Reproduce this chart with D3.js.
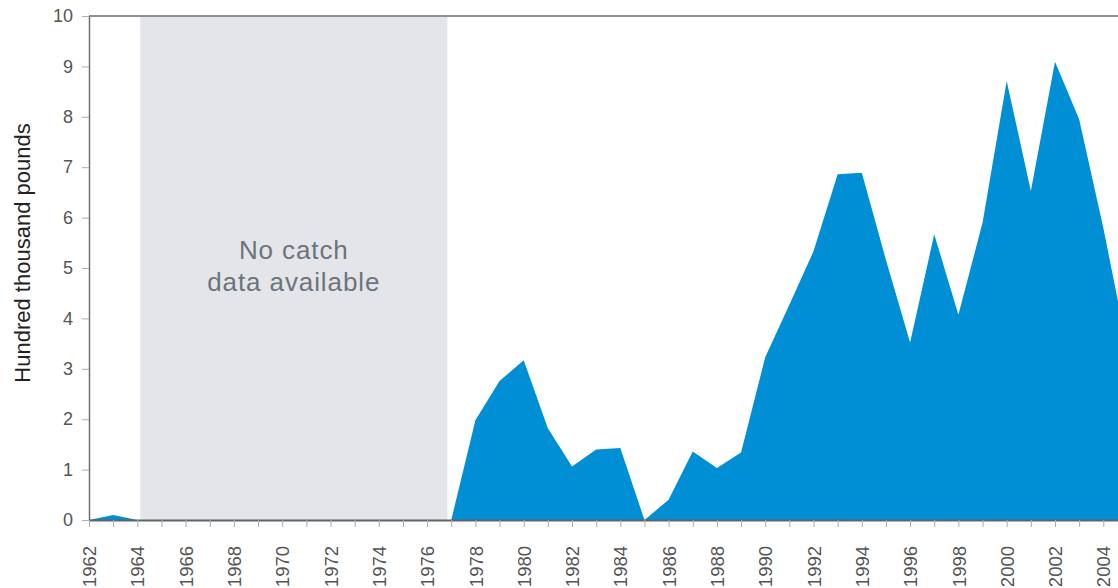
<!DOCTYPE html>
<html>
<head>
<meta charset="utf-8">
<script src="https://cdn.jsdelivr.net/npm/d3@7"></script>
<style>
  html, body { margin: 0; padding: 0; background: #ffffff; }
  svg { display: block; }
  text { font-family: "Liberation Sans", Arial, sans-serif; }
</style>
</head>
<body>
<svg id="chart" width="1118" height="588"></svg>
<script>
// ---- data ----
const years = [1962,1963,1964,1965,1966,1967,1968,1969,1970,1971,1972,1973,1974,1975,1976,1977,
               1978,1979,1980,1981,1982,1983,1984,1985,1986,1987,1988,1989,1990,1991,1992,1993,
               1994,1995,1996,1997,1998,1999,2000,2001,2002,2003,2004,2005];
const catchValues = [0,0.1,0,0,0,0,0,0,0,0,0,0,0,0,0,0,
               1.98,2.76,3.17,1.82,1.06,1.40,1.43,0,0.40,1.36,1.03,1.34,3.23,4.27,5.33,6.86,
               6.89,5.16,3.52,5.67,4.07,5.90,8.71,6.53,9.09,7.95,5.80,3.40];
const xTickLabels = [1962,1964,1966,1968,1970,1972,1974,1976,1978,1980,1982,1984,1986,1988,
                     1990,1992,1994,1996,1998,2000,2002,2004];
const yTicks = [0,1,2,3,4,5,6,7,8,9,10];
const noDataPeriod = [1964.12, 1976.84];
const noDataText = ["No catch", "data available"];
const yTitle = "Hundred thousand pounds";

// ---- layout ----
const W = 1118, H = 588;
const mLeft = 89, mTop = 16, mBottom = 520;
const svg = d3.select("#chart");

const x = d3.scaleLinear().domain([1962, 2005]).range([mLeft, mLeft + 43 * 24.15]);
const y = d3.scaleLinear().domain([0, 10]).range([mBottom, mTop]);

// no-data band
svg.append("rect")
  .attr("x", x(noDataPeriod[0]))
  .attr("y", mTop)
  .attr("width", x(noDataPeriod[1]) - x(noDataPeriod[0]))
  .attr("height", mBottom - mTop)
  .attr("fill", "#e4e5e9");

const midX = (x(noDataPeriod[0]) + x(noDataPeriod[1])) / 2;
svg.append("g").selectAll("text").data(noDataText).join("text")
  .attr("x", midX)
  .attr("y", (d, i) => 259 + i * 32)
  .attr("text-anchor", "middle")
  .attr("font-size", 26)
  .attr("letter-spacing", 0.9)
  .attr("fill", "#6b747c")
  .text(d => d);

// area
const series = years.map((yr, i) => ({ year: yr, value: catchValues[i] }));
const area = d3.area()
  .x(d => x(d.year))
  .y0(y(0))
  .y1(d => y(d.value));
svg.append("path")
  .datum(series)
  .attr("d", area)
  .attr("fill", "#008ed4");

// top frame line
svg.append("line")
  .attr("x1", mLeft).attr("x2", W)
  .attr("y1", mTop).attr("y2", mTop)
  .attr("stroke", "#8b8f97").attr("stroke-width", 2);

// y axis
const yAxis = svg.append("g")
  .attr("transform", `translate(${mLeft},0)`)
  .call(d3.axisLeft(y).tickValues(yTicks).tickSize(7).tickSizeOuter(0).tickPadding(9));
yAxis.select(".domain").attr("stroke", "#6d7075").attr("stroke-width", 1.5);
yAxis.selectAll(".tick line").attr("stroke", "#a9abb0");
yAxis.selectAll(".tick text")
  .attr("font-size", 18)
  .attr("fill", "#555")
  .attr("font-weight", 300);

// x axis
const xAxis = svg.append("g")
  .attr("transform", `translate(0,${mBottom})`)
  .call(d3.axisBottom(x)
    .tickValues(years.filter(d => d <= 2004))
    .tickSize(7).tickSizeOuter(0)
    .tickFormat(d => xTickLabels.includes(d) ? String(d) : ""));
xAxis.select(".domain")
  .attr("d", `M${mLeft},0.5H${W}`)
  .attr("stroke", "#5f6266").attr("stroke-width", 2);
xAxis.selectAll(".tick line").attr("stroke", "#a9abb0");
xAxis.selectAll(".tick text")
  .attr("transform", "rotate(-90)")
  .attr("text-anchor", "end")
  .attr("x", -26)
  .attr("y", 0)
  .attr("dy", "0.36em")
  .attr("font-size", 18.5)
  .attr("fill", "#555")
  .attr("font-weight", 300);

// y title
svg.append("text")
  .attr("transform", `translate(30,${253}) rotate(-90)`)
  .attr("text-anchor", "middle")
  .attr("font-size", 22)
  .attr("fill", "#222")
  .text(yTitle);
</script>
</body>
</html>
